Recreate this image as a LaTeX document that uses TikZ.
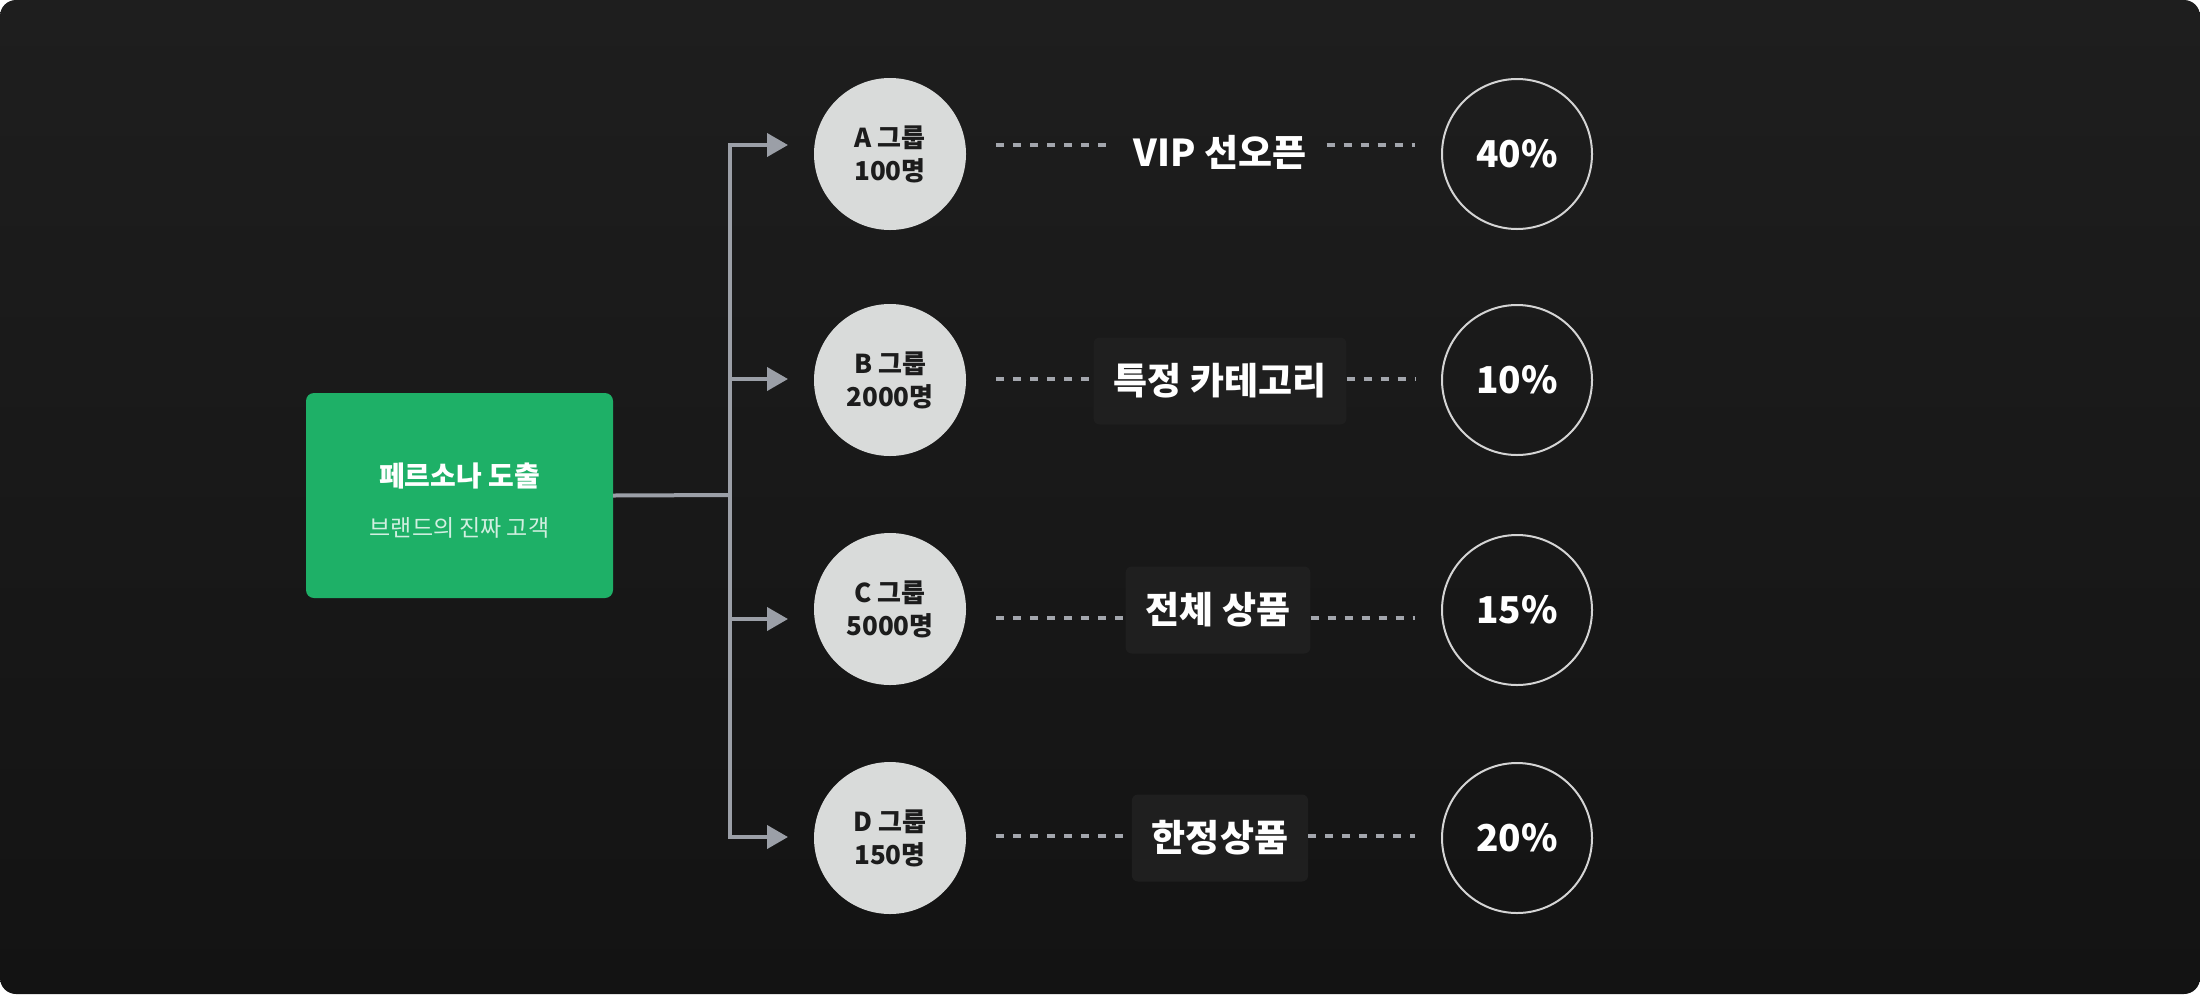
\documentclass[tikz,border=0pt]{standalone}
\usepackage{fontspec}
\setmainfont{Noto Sans CJK KR}
\usetikzlibrary{arrows.meta}
\definecolor{bgtop}{HTML}{1E1E1E}
\definecolor{bgbot}{HTML}{131313}
\definecolor{persona}{HTML}{1EB067}
\definecolor{subtext}{HTML}{D2EFE1}
\definecolor{linegray}{HTML}{9B9FA7}
\definecolor{dashgray}{HTML}{A3A6AD}
\definecolor{grpfill}{HTML}{D9DBDA}
\definecolor{grptext}{HTML}{1C1C1C}
\definecolor{boxbg}{HTML}{1F1F1F}
\definecolor{ring}{HTML}{D4D4D4}
\begin{document}
\begin{tikzpicture}[x=1pt, y=-1pt,
  conn/.style={draw=linegray, line width=4pt, -{Triangle[length=21pt,width=23pt]}},
  dots/.style={draw=dashgray, line width=4pt, dash pattern=on 8pt off 9pt},
  grp/.style={circle, fill=grpfill, text=grptext, minimum size=152pt, inner sep=0pt,
              align=center, font=\fontsize{26}{33}\selectfont\bfseries},
  lab/.style={rectangle, fill=boxbg, rounded corners=6pt, inner xsep=20pt, inner ysep=0pt,
              minimum height=87pt, text=white, font=\fontsize{37}{42}\selectfont\bfseries},
  pct/.style={circle, draw=ring, line width=2pt, minimum size=150pt, inner sep=0pt,
              text=white, font=\fontsize{37}{44}\selectfont\bfseries}
]
\useasboundingbox (0,0) rectangle (2200,994);
\fill[white] (0,0) rectangle (2200,994);
\shade[top color=bgtop, bottom color=bgbot, rounded corners=16pt] (0,0) rectangle (2200,994);

\node[fill=persona, rounded corners=8pt, minimum width=307pt, minimum height=205pt] (persona) at (459.5,495.5) {};
\node[text=white, font=\fontsize{28}{34}\selectfont\bfseries] (title) at ([yshift=19.5pt]persona.center) {페르소나 도출};
\node[text=subtext, font=\fontsize{23}{28}\selectfont] (sub) at ([yshift=-32.5pt]persona.center) {브랜드의 진짜 고객};

\node[grp] (ga) at (890,154) {A 그룹\\100명};
\node[grp] (gb) at (890,380) {B 그룹\\2000명};
\node[grp] (gc) at (890,609) {C 그룹\\5000명};
\node[grp] (gd) at (890,838) {D 그룹\\150명};

\node[lab, fill=none] (la) at (1220,152) {VIP 선오픈};
\node[lab] (lb) at (1220,381) {특정 카테고리};
\node[lab] (lc) at (1218,610) {전체 상품};
\node[lab] (ld) at (1220,838) {한정상품};

\node[pct] (pa) at (1517,154) {40\%};
\node[pct] (pb) at (1517,380) {10\%};
\node[pct] (pc) at (1517,610) {15\%};
\node[pct] (pd) at (1517,838) {20\%};

\coordinate (hub) at (730,495);
\coordinate (ta) at (788,145);
\coordinate (tb) at (788,379);
\coordinate (tc) at (788,619);
\coordinate (td) at (788,837);
\draw[draw=linegray, line width=4pt] (persona.east) -- (hub);
\draw[conn] (hub) |- (ta);
\draw[conn] (hub) |- (tb);
\draw[conn] (hub) |- (tc);
\draw[conn] (hub) |- (td);

\coordinate (da) at (996,145);  \coordinate (ea) at (1415,145);
\coordinate (db) at (996,379);  \coordinate (eb) at (1415,379);
\coordinate (dc) at (996,618);  \coordinate (ec) at (1415,618);
\coordinate (dd) at (996,836);  \coordinate (ed) at (1415,836);
\draw[dots] (da) -- (da -| la.west);  \draw[dots] (ea -| la.east) -- (ea);
\draw[dots] (db) -- (db -| lb.west);  \draw[dots] (eb -| lb.east) -- (eb);
\draw[dots] (dc) -- (dc -| lc.west);  \draw[dots] (ec -| lc.east) -- (ec);
\draw[dots] (dd) -- (dd -| ld.west);  \draw[dots] (ed -| ld.east) -- (ed);
\end{tikzpicture}
\end{document}
